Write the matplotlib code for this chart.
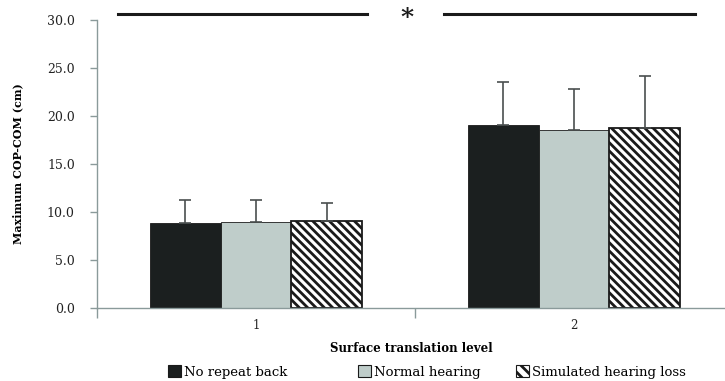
import matplotlib
matplotlib.use('Agg')
import matplotlib.pyplot as plt
import matplotlib.patches as mpatches
import numpy as np

plt.rcParams['font.family'] = ['DejaVu Serif']
plt.rcParams['hatch.linewidth'] = 2.0

levels = ['1', '2']
series = ['No repeat back', 'Normal hearing', 'Simulated hearing loss']
means = [[8.85, 19.05],
         [8.95, 18.55],
         [9.05, 18.75]]
sds = [[2.4, 4.45],
       [2.3, 4.25],
       [1.9, 5.45]]
colors = ['#1b1f1f', '#bfcdca', 'white']
hatches = [None, None, '\\\\\\\\']

fig = plt.figure(figsize=(7.25, 3.81), dpi=100)
ax = fig.add_axes([97 / 725, 1 - 308 / 381, 1 - 97 / 725, (308 - 20) / 381])

x = np.arange(1, len(levels) + 1)
w = 0.223
for i, name in enumerate(series):
    pos = x + (i - 1) * w
    ax.bar(pos, means[i], w, color=colors[i], edgecolor='#1a1a1a',
           linewidth=1.3 if i == 2 else 0.6, hatch=hatches[i], zorder=2)
    ax.errorbar(pos, means[i], yerr=[[0] * len(levels), sds[i]], fmt='none',
                ecolor='#4a4f4f', elinewidth=1.2, capsize=4.5, capthick=1.2, zorder=3)

ax.set_ylim(0, 30)
ax.set_xlim(0.5, 0.5 + (725 - 97) / 318)
ax.set_yticks(np.arange(0, 31, 5))
ax.set_yticklabels(['%.1f' % v for v in np.arange(0, 31, 5)], fontsize=9, color='#222222')
ax.set_xticks(x)
ax.set_xticklabels(levels, fontsize=8.5, color='#222222')
ax.set_xticks([0.5, 1.5], minor=True)
ax.tick_params(axis='x', which='major', length=0, pad=8)
ax.tick_params(axis='x', which='minor', length=7, color='#8a9a9a', width=1)
ax.tick_params(axis='y', length=5, color='#8a9a9a', width=1, pad=11)
for s in ['top', 'right']:
    ax.spines[s].set_visible(False)
for s in ['left', 'bottom']:
    ax.spines[s].set_color('#8a9a9a')
    ax.spines[s].set_linewidth(1)

ax.set_ylabel('Maximum COP-COM (cm)', fontsize=8, fontweight='bold', labelpad=17)
ax.set_xlabel('Surface translation level', fontsize=8.5, fontweight='bold', labelpad=7)

# significance bars
ax.plot([0.565, 1.35], [30.65, 30.65], color='#1a1a1a', lw=2.2, clip_on=False)
ax.plot([1.59, 2.38], [30.65, 30.65], color='#1a1a1a', lw=2.2, clip_on=False)
ax.text(1.475, 30.2, '*', fontsize=18, fontweight='bold', ha='center', va='center',
        color='#1a1a1a', clip_on=False)

# legend entries
leg_x = [168 / 725, 358 / 725, 516 / 725]
for i, name in enumerate(series):
    h = mpatches.Patch(facecolor=colors[i], edgecolor='#1a1a1a', hatch='\\\\\\' if i == 2 else None,
                       linewidth=0.8)
    fig.legend([h], [name], loc='center left', bbox_to_anchor=(leg_x[i], 1 - 372 / 381),
               frameon=False, fontsize=9.5, handlelength=0.95, handleheight=0.95,
               handletextpad=0.25, borderpad=0, borderaxespad=0)

fig.savefig('out.png', dpi=100)
